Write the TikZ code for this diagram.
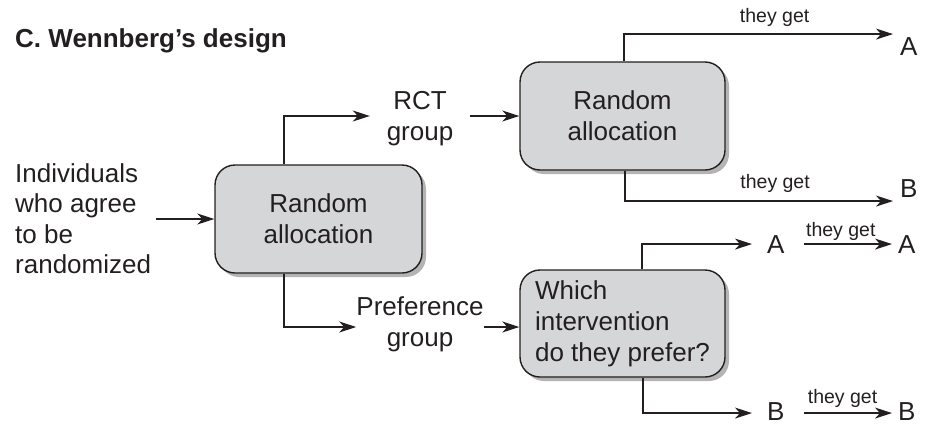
\documentclass[tikz,border=0pt]{standalone}
\usepackage{fontspec}
\setmainfont{Liberation Sans}
\usetikzlibrary{arrows.meta,shadows,calc}
\definecolor{ink}{HTML}{231F20}
\definecolor{boxfill}{HTML}{D5D6D8}
\definecolor{shade}{HTML}{B4B4B4}
\begin{document}
\begin{tikzpicture}[x=1pt,y=-1pt,
  txt/.style={inner sep=0pt, text=ink, font=\fontsize{26}{31}\selectfont},
  small/.style={inner sep=0pt, text=ink, font=\fontsize{19.5}{23}\selectfont},
  stepbox/.style={txt, draw=ink, line width=1.4pt, fill=boxfill,
    rounded corners=20pt,
    drop shadow={shadow xshift=4pt, shadow yshift=-4pt, fill=shade, opacity=1}},
  arr/.style={draw=ink, line width=1.3pt,
    -{Stealth[length=17pt, width=11pt, inset=5pt]}}]
\useasboundingbox (0,0) rectangle (926,426);

% heading
\node[txt, font=\fontsize{26}{31}\selectfont\bfseries, anchor=base west]
  (title) at (15,47) {C. Wennberg’s design};

% entry population (base anchor sits on the last line)
\node[txt, font=\fontsize{26}{30.5}\selectfont, align=left, anchor=base west]
  (intext) at (15,273.5) {Individuals\\who agree\\to be\\randomized};

% allocation boxes
\node[stepbox, minimum width=207pt, minimum height=108pt, align=center]
  (box1) at (318.5,219) {Random\\allocation};
\node[stepbox, minimum width=205pt, minimum height=108pt, align=center]
  (box2) at (622.5,116) {Random\\allocation};
\node[stepbox, minimum width=205pt, minimum height=107pt, align=left]
  (box3) at (622.5,323.5) {Which\\intervention\\do they prefer?};

% group labels
\node[txt, align=center, minimum width=100pt] (rct) at (420,118.5) {RCT\\group};
\node[txt, align=center, minimum width=100pt] (pref) at (420,324) {Preference\\group};

% outcome letters
\node[txt, anchor=base west] (outA)  at (900,55)  {A};
\node[txt, anchor=base west] (outB)  at (900,197) {B};
\node[txt, anchor=base west] (prefA) at (767,253) {A};
\node[txt, anchor=base west] (getA)  at (898,253) {A};
\node[txt, anchor=base west] (prefB) at (767,420) {B};
\node[txt, anchor=base west] (getB)  at (898,420) {B};

% connectors
\draw[arr] ([xshift=5pt]intext.east |- box1.west) -- (box1.west);
\draw[arr] ([xshift=-34.5pt]box1.north) |- (rct.west |- box2.west);
\draw[arr] (rct.east |- box2.west) -- (box2.west);
\draw[arr] ([xshift=-34.5pt]box1.south) |- ([yshift=-3.5pt]pref.west |- box3.west);
\draw[arr] ([yshift=-3.5pt]pref.east |- box3.west) -- ([yshift=-3.5pt]box3.west);

\draw[arr] ([xshift=1.5pt]box2.north) |- ([xshift=-7pt,yshift=12pt]outA.west)
  node[small, pos=0.78, anchor=base, yshift=12pt] {they get};
\draw[arr] ([xshift=2.5pt]box2.south) |- ([xshift=-7pt,yshift=-13pt]outB.west)
  node[small, pos=0.78, anchor=base, yshift=13pt] {they get};

\draw[arr] ([xshift=19.5pt]box3.north) |- ([xshift=-15pt]prefA.west);
\draw[arr] ([xshift=19pt]prefA.east) -- ([xshift=-6pt]getA.west)
  node[small, pos=0.42, anchor=base, yshift=8pt] {they get};
\draw[arr] ([xshift=20.5pt]box3.south) |- ([xshift=-15pt,yshift=-2pt]prefB.west);
\draw[arr] ([xshift=19pt,yshift=-2pt]prefB.east) -- ([xshift=-6pt,yshift=-2pt]getB.west)
  node[small, pos=0.44, anchor=base, yshift=10pt] {they get};
\end{tikzpicture}
\end{document}
